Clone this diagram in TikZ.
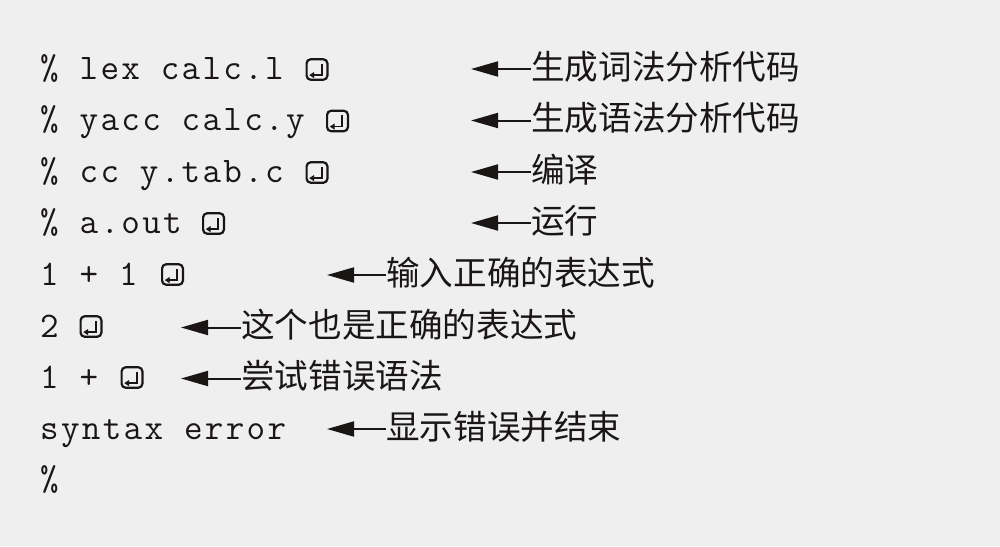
\documentclass[tikz,border=0pt]{standalone}
\usepackage{fontspec}
\newfontfamily\codefont[LetterSpace=6.5]{Latin Modern Mono}
\newfontfamily\cjkfont{Noto Sans CJK SC}
\usetikzlibrary{arrows.meta}
\definecolor{bg}{RGB}{239,239,239}
\definecolor{ink}{RGB}{26,22,22}
\newcommand\enterkey[3]{%
  \node[enterbox] (#1) at (#2,#3) {};
  \draw[keyglyph] ([shift={(4.8,-5.6)}]#1.center) |- ([shift={(-7.8,5.6)}]#1.center);}
\begin{document}
\begin{tikzpicture}[x=1pt,y=-1pt,
  code/.style={anchor=base west,inner sep=0pt,text=ink,
    font=\codefont\fontsize{36}{36}\selectfont},
  note/.style={anchor=base west,inner sep=0pt,text=ink,
    font=\cjkfont\fontsize{33.6}{34}\selectfont},
  enterbox/.style={draw=ink,line width=2.2pt,rounded corners=4pt,
    minimum width=20.8pt,minimum height=20.4pt,inner sep=0pt},
  keyglyph/.style={draw=ink,line width=1.7pt,-{Triangle[length=5pt,width=6pt]}},
  callout/.style={draw=ink,line width=2pt,-{Triangle[length=27pt,width=15pt]}}]
\fill[bg] (0,0) rectangle (1000,546);
\useasboundingbox (0,0) rectangle (1000,546);

% code lines
\node[code] (c1) at (40,79)    {\% lex calc.l};
\node[code] (c2) at (40,130.5) {\% yacc calc.y};
\node[code] (c3) at (40,182)   {\% cc y.tab.c};
\node[code] (c4) at (40,233)   {\% a.out};
\node[code] (c5) at (40,285)   {1 + 1};
\node[code] (c6) at (40,337)   {2};
\node[code] (c7) at (40,388)   {1 +};
\node[code] (c8) at (40,439)   {syntax error};
\node[code] (c9) at (40,490)   {\%};

% enter keys
\enterkey{k1}{317}{69.5}
\enterkey{k2}{337.5}{121}
\enterkey{k3}{317}{172.5}
\enterkey{k4}{213.5}{223.5}
\enterkey{k5}{172.5}{274.5}
\enterkey{k6}{91}{326.5}
\enterkey{k7}{132}{377.5}

% annotations
\node[note] (n1) at (531,79)    {生成词法分析代码};
\node[note] (n2) at (531,130.5) {生成语法分析代码};
\node[note] (n3) at (531,182)   {编译};
\node[note] (n4) at (531,233)   {运行};
\node[note] (n5) at (386,285)   {输入正确的表达式};
\node[note] (n6) at (241,337)   {这个也是正确的表达式};
\node[note] (n7) at (241,388)   {尝试错误语法};
\node[note] (n8) at (386,439)   {显示错误并结束};

% arrow tips
\coordinate (p1) at (471,69);
\coordinate (p2) at (471,120.5);
\coordinate (p3) at (471,172);
\coordinate (p4) at (471,223);
\coordinate (p5) at (327,275);
\coordinate (p6) at (181,327.5);
\coordinate (p7) at (181,378.5);
\coordinate (p8) at (327,429);

\foreach \i in {1,...,8}{\draw[callout] (n\i.west |- p\i) -- (p\i);}
\end{tikzpicture}
\end{document}
